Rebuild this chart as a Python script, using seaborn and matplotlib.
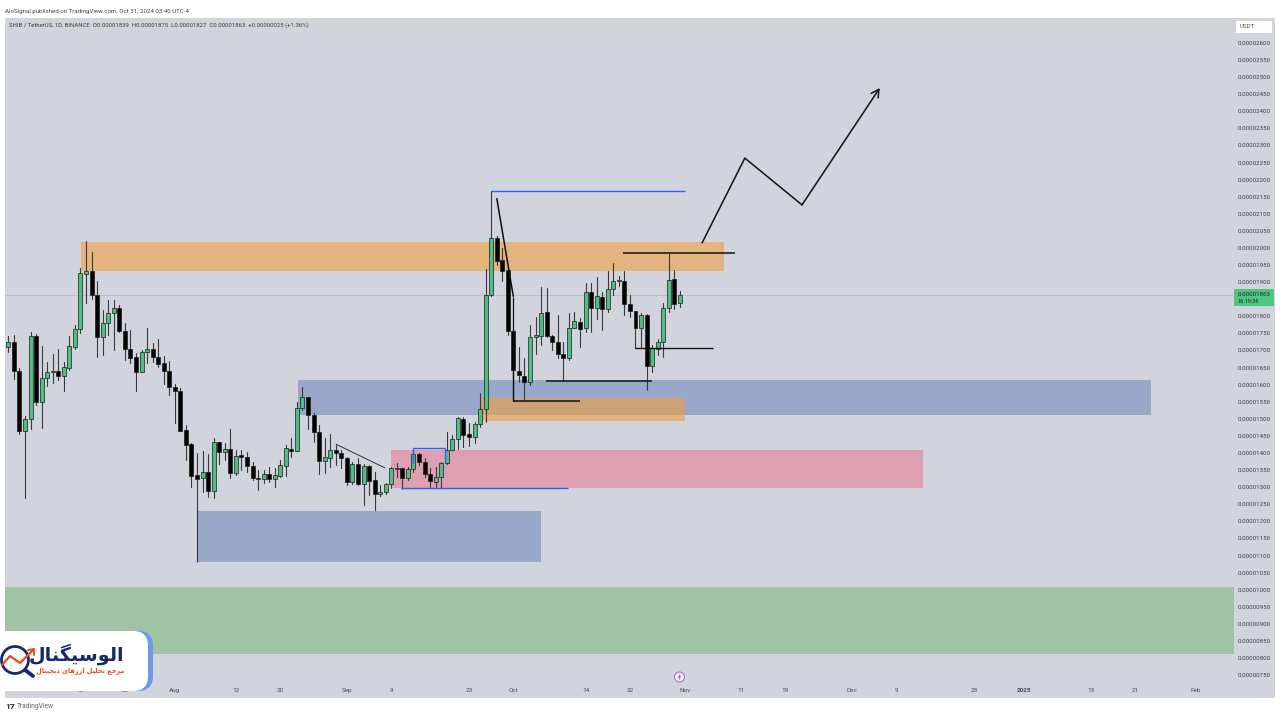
import matplotlib

matplotlib.use("Agg")
import matplotlib.pyplot as plt
import matplotlib.patches as mpatches
import numpy as np
import pandas as pd
import seaborn as sns

# prices are in units of 0.00000001, days counted from Jul 2 2024
opens = [1709, 1726, 1640, 1463, 1499, 1741, 1550, 1619, 1636, 1640,
         1624, 1648, 1711, 1764, 1924, 1934, 1863, 1739, 1779, 1811,
         1825, 1758, 1705, 1681, 1638, 1697, 1704, 1682, 1664, 1640,
         1594, 1581, 1466, 1425, 1336, 1326, 1345, 1290, 1431, 1404,
         1411, 1341, 1394, 1389, 1362, 1328, 1323, 1338, 1325, 1334,
         1363, 1412, 1407, 1531, 1563, 1511, 1462, 1377, 1386, 1409,
         1401, 1384, 1316, 1367, 1309, 1362, 1321, 1280, 1287, 1309,
         1352, 1355, 1326, 1352, 1397, 1375, 1338, 1316, 1331, 1370,
         1409, 1440, 1500, 1455, 1448, 1484, 1528, 1862, 2028, 1965,
         1935, 1757, 1641, 1626, 1608, 1740, 1743, 1813, 1743, 1724,
         1690, 1677, 1765, 1784, 1765, 1870, 1823, 1857, 1820, 1879,
         1903, 1904, 1836, 1815, 1765, 1805, 1655, 1703, 1724, 1823,
         1908, 1839]
closes = [1726, 1641, 1463, 1500, 1741, 1550, 1619, 1636, 1640, 1624,
          1651, 1712, 1764, 1926, 1934, 1863, 1739, 1779, 1811, 1825,
          1757, 1705, 1677, 1638, 1697, 1704, 1680, 1661, 1640, 1592,
          1580, 1465, 1423, 1333, 1323, 1345, 1290, 1433, 1404, 1411,
          1341, 1392, 1389, 1362, 1328, 1323, 1338, 1324, 1335, 1365,
          1414, 1407, 1531, 1563, 1511, 1462, 1377, 1387, 1409, 1401,
          1384, 1316, 1368, 1309, 1362, 1318, 1280, 1287, 1308, 1355,
          1357, 1326, 1352, 1397, 1375, 1338, 1318, 1331, 1370, 1409,
          1440, 1501, 1453, 1448, 1485, 1528, 1862, 2028, 1962, 1933,
          1758, 1643, 1627, 1608, 1740, 1745, 1811, 1743, 1724, 1690,
          1677, 1765, 1785, 1763, 1870, 1825, 1859, 1820, 1879, 1902,
          1906, 1836, 1815, 1765, 1804, 1655, 1706, 1724, 1823, 1906,
          1836, 1863]
highs = [1743, 1746, 1648, 1508, 1755, 1748, 1713, 1667, 1690, 1704,
         1667, 1741, 1775, 1941, 2019, 1987, 1902, 1819, 1848, 1848,
         1833, 1780, 1760, 1692, 1702, 1765, 1721, 1733, 1684, 1670,
         1602, 1589, 1482, 1428, 1399, 1407, 1397, 1443, 1433, 1430,
         1469, 1409, 1409, 1404, 1375, 1350, 1350, 1360, 1355, 1380,
         1423, 1443, 1550, 1594, 1565, 1516, 1482, 1443, 1456, 1423,
         1409, 1387, 1375, 1384, 1368, 1365, 1345, 1306, 1313, 1360,
         1370, 1355, 1360, 1411, 1399, 1384, 1355, 1360, 1375, 1460,
         1453, 1506, 1506, 1487, 1492, 1577, 1937, 2167, 2035, 1999,
         1937, 1760, 1711, 1677, 1774, 1797, 1885, 1882, 1745, 1804,
         1726, 1811, 1813, 1794, 1898, 1898, 1914, 1872, 1933, 1955,
         1918, 1933, 1862, 1815, 1809, 1807, 1716, 1735, 1840, 1984,
         1935, 1875]
lows = [1697, 1616, 1456, 1267, 1469, 1541, 1472, 1596, 1604, 1614,
        1580, 1643, 1704, 1750, 1838, 1850, 1680, 1687, 1746, 1702,
        1755, 1672, 1663, 1582, 1638, 1663, 1665, 1651, 1602, 1570,
        1489, 1463, 1380, 1300, 1225, 1287, 1272, 1267, 1368, 1380,
        1326, 1336, 1350, 1345, 1321, 1292, 1311, 1316, 1301, 1331,
        1333, 1387, 1407, 1526, 1469, 1433, 1338, 1342, 1360, 1365,
        1355, 1306, 1309, 1306, 1248, 1277, 1233, 1274, 1280, 1299,
        1331, 1294, 1321, 1345, 1365, 1331, 1301, 1301, 1299, 1368,
        1409, 1411, 1417, 1420, 1430, 1475, 1492, 1860, 1950, 1904,
        1745, 1620, 1608, 1555, 1599, 1691, 1716, 1740, 1701, 1677,
        1610, 1672, 1765, 1711, 1755, 1755, 1791, 1760, 1813, 1862,
        1889, 1804, 1799, 1706, 1711, 1584, 1638, 1687, 1682, 1813,
        1820, 1827]

# 1850 sits behind the last price tag, so it has no label
price_ticks = [p for p in range(750, 2650, 50) if p != 1850]
date_ticks = [13, 21, 30, 41, 49, 61, 69, 83, 91, 104, 112, 122, 132, 140,
              152, 160, 174, 183, 195, 203, 214]
date_labels = ["15", "23", "Aug", "12", "20", "Sep", "9", "23", "Oct", "14",
               "22", "Nov", "11", "19", "Dec", "9", "23", "2025", "13", "21",
               "Feb"]

# shaded zones
zone_start = [-1, 34, 13.1, 52.2, 85, 69]
zone_end = [221, 96, 129, 205.9, 122, 164.8]
zone_low = [812, 1081, 1933, 1511, 1494, 1297]
zone_high = [1008, 1230, 2017, 1614, 1561, 1409]
zone_color = ["#7eb97d", "#7589bb", "#f0a040", "#7589bb", "#f0a040", "#e77d96"]

# drawn lines: x from/to, price from/to, colour, width
line_x0 = [87, 70.7, 72.9, 72.9, 78.7, 91, 91, 96.9, 113, 110.8, 34, 59, 88, 91]
line_x1 = [122, 100.9, 78.7, 72.9, 78.7, 103, 91, 116, 127, 130.9, 34, 67.9, 91, 91]
line_y0 = [2167, 1297, 1415, 1415, 1415, 1552, 1857, 1611, 1707, 1985, 1230, 1426, 2146, 1760]
line_y1 = [2167, 1297, 1415, 1370, 1375, 1552, 1552, 1611, 1707, 1985, 1081, 1356, 1857, 1552]
line_color = ["#2962ff"] * 5 + ["#111111"] * 5 + ["#333333", "#333333", "#111111", "#111111"]
line_width = [1.0, 1.0, 1.0, 1.0, 1.0, 1.1, 0.9, 1.1, 1.0, 1.1, 0.8, 0.7, 1.1, 0.9]

path_days = [125, 132.7, 143, 157]
path_prices = [2015, 2263, 2126, 2468]

BG = "#d1d4dc"
GREEN = "#4dbf85"
FONT = ["Roboto", "DejaVu Sans"]

sns.set_theme(style="white")
plt.rcParams["font.family"] = FONT

days = np.arange(len(opens))
candles = pd.DataFrame({"day": days, "open": opens, "close": closes, "high": highs, "low": lows})
candles["top"] = candles[["open", "close"]].max(axis=1)
candles["bottom"] = candles[["open", "close"]].min(axis=1)
wicks = candles.melt(id_vars="day", value_vars=["high", "low"], value_name="price")

fig = plt.figure(figsize=(12.8, 7.2), dpi=100, facecolor="white")
fig.add_artist(mpatches.Rectangle((5 / 1280, 22 / 720), 1270 / 1280, 680 / 720,
                                  transform=fig.transFigure, fc=BG, ec="none", zorder=-5))
ax = fig.add_axes([5 / 1280, 22 / 720, 1228 / 1280, 680 / 720], facecolor=BG)

for x0, x1, y0, y1, c in zip(zone_start, zone_end, zone_low, zone_high, zone_color):
    ax.fill_between([x0, x1], y0, y1, color=c, alpha=0.6, lw=0, zorder=1)

ax.axhline(closes[-1], color="#bcc0ca", lw=0.7, zorder=1.5)

sns.lineplot(data=wicks, x="day", y="price", units="day", estimator=None, color="#3a3a3a",
             linewidth=0.8, legend=False, ax=ax, zorder=2)
colors = np.where(candles["close"] >= candles["open"], GREEN, "#000000")
ax.bar(candles["day"], (candles["top"] - candles["bottom"]).clip(lower=3), bottom=candles["bottom"],
       width=0.72, color=colors, edgecolor="#1c1c1c", linewidth=0.5, zorder=3)

for x0, x1, y0, y1, c, w in zip(line_x0, line_x1, line_y0, line_y1, line_color, line_width):
    ax.plot([x0, x1], [y0, y1], color=c, lw=w, solid_capstyle="butt", zorder=4)

ax.plot(path_days[:-1], path_prices[:-1], color="#111111", lw=1.1, zorder=4)
ax.annotate("", xy=(path_days[-1], path_prices[-1]), xytext=(path_days[-2], path_prices[-2]),
            arrowprops=dict(arrowstyle="->,head_length=0.45,head_width=0.25", color="#111111",
                            lw=1.1, shrinkA=0, shrinkB=0), zorder=4)

ax.set_xlim(-0.595, 220.65)
ax.set_ylim(683, 2673)
ax.set_xlabel("")
ax.set_ylabel("")
ax.yaxis.tick_right()
ax.set_yticks(price_ticks)
ax.set_yticklabels([f"0.{p:08d}" for p in price_ticks])
ax.set_xticks(date_ticks)
ax.set_xticklabels(date_labels)
ax.tick_params(axis="y", length=0, pad=3.5, labelsize=4.4, labelcolor="#3c3f47")
ax.tick_params(axis="x", length=0, pad=-7, labelsize=4.6, labelcolor="#4a4d55")
for lab in ax.get_xticklabels():
    if lab.get_text() == "2025":
        lab.set_fontweight("bold")
sns.despine(ax=ax, left=True, bottom=True, top=True, right=True)

# overlay in pixel coordinates for header, price tag and logo
ov = fig.add_axes([0, 0, 1, 1], facecolor="none")
ov.set_xlim(0, 1280)
ov.set_ylim(720, 0)
ov.axis("off")

ov.text(5, 11, "AloSignal published on TradingView.com, Oct 31, 2024 03:40 UTC-4",
        fontsize=4.45, color="#444444", va="center")
ov.text(9, 25, "SHIB / TetherUS, 1D, BINANCE  O0.00001839  H0.00001875  L0.00001827  C0.00001863  "
        "+0.00000025 (+1.36%)", fontsize=4.35, color="#3c3f47", va="center")

ov.add_patch(mpatches.FancyBboxPatch((1236, 21), 36, 12, boxstyle="round,pad=0,rounding_size=1",
                                     fc="white", ec="none"))
ov.text(1240, 27, "USDT", fontsize=4.4, color="#555555", va="center")

ov.add_patch(mpatches.FancyBboxPatch((1234, 289), 40, 17, boxstyle="round,pad=0,rounding_size=1",
                                     fc="#4fc582", ec="none"))
ov.text(1238, 294, "0.00001863", fontsize=4.4, color="#1c2a20", va="center")
ov.text(1238, 301.5, "16:19:36", fontsize=4.0, color="#1c2a20", va="center")

# event marker on the time axis
ov.add_patch(mpatches.Circle((679.5, 677), 5, fc="#eceef3", ec="#9c4fd0", lw=0.6))
ov.add_patch(mpatches.Polygon([(680.5, 673.5), (677.8, 677.5), (679.5, 677.5), (678.7, 680.5),
                               (681.3, 676.3), (679.7, 676.3)], fc="#9c4fd0", ec="none"))

# logo
ov.add_patch(mpatches.FancyBboxPatch((-25, 631), 178, 60, boxstyle="round,pad=0,rounding_size=15",
                                     fc="#6f97ea", ec="none", zorder=5))
ov.add_patch(mpatches.FancyBboxPatch((-25, 631), 173, 60, boxstyle="round,pad=0,rounding_size=15",
                                     fc="white", ec="none", zorder=6))
ov.add_patch(mpatches.Circle((15, 660), 13.5, fc="none", ec="#17296b", lw=2.0, zorder=7))
ov.plot([25, 33], [670, 676], color="#17296b", lw=2.8, solid_capstyle="round", zorder=7)
ov.plot([2, 10, 20, 33], [665, 656, 663, 650], color="#ee4a1d", lw=1.6, zorder=8)
ov.plot([28, 34, 34], [650, 649, 655], color="#ee4a1d", lw=1.4, zorder=8)

# Arabic text in visual order with presentation forms, matplotlib does not shape it
name_fa = "\uFE8D\uFEDF\uFEEE\uFEB3\uFBFF\uFB95\uFEE8\uFE8E\uFEDD"[::-1]
slogan_fa = ("\uFEE3\uFEAE\uFE9F\uFECA \uFE97\uFEA4\uFEE0\uFBFF\uFEDE "
             "\uFE8D\uFEAD\uFEAF\uFEEB\uFE8E\uFBFC \uFEA9\uFBFE\uFEA0\uFBFF\uFE98\uFE8E\uFEDD")[::-1]
ov.text(124, 654, name_fa, family="DejaVu Sans", fontweight="bold", fontsize=13.8, color="#17296b",
        ha="right", va="center", zorder=8)
ov.text(124, 671, slogan_fa, family="DejaVu Sans", fontweight="bold", fontsize=4.7, color="#ee4a1d",
        ha="right", va="center", zorder=8)

ov.text(5, 706.5, "17", fontsize=6, fontweight="bold", color="#222222", va="center")
ov.text(17, 706.5, "TradingView", fontsize=4.8, color="#666666", va="center")

fig.savefig("out.png", dpi=100)
